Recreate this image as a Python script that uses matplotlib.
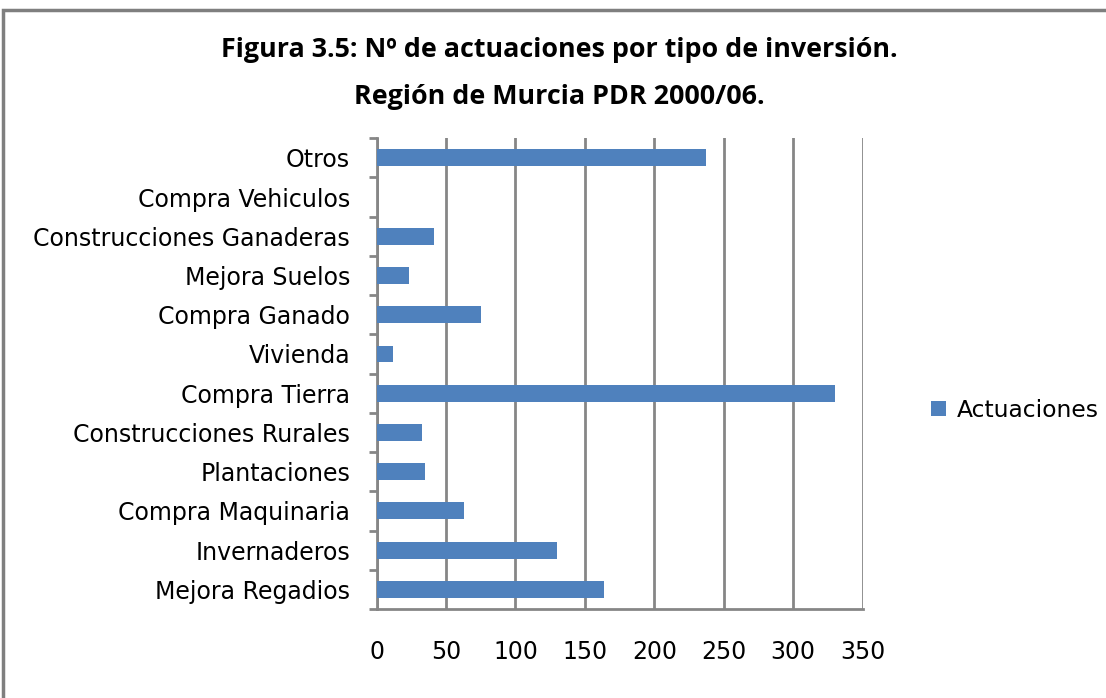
import matplotlib
matplotlib.use("Agg")
import matplotlib.pyplot as plt
from matplotlib.patches import Rectangle

categories = ["Mejora Regadios", "Invernaderos", "Compra Maquinaria", "Plantaciones",
              "Construcciones Rurales", "Compra Tierra", "Vivienda", "Compra Ganado",
              "Mejora Suelos", "Construcciones Ganaderas", "Compra Vehiculos", "Otros"]
values = [164, 130, 63, 35, 33, 330, 12, 75, 23, 41, 0, 237]
xticks = [0, 50, 100, 150, 200, 250, 300, 350]
series_name = "Actuaciones"
title_lines = ["Figura 3.5: Nº de actuaciones por tipo de inversión.",
               "Región de Murcia PDR 2000/06."]

plt.rcParams['font.family'] = ['DejaVu Sans']
bar_color = "#4F81BD"
grid_color = "#868686"

fig = plt.figure(figsize=(11.06, 6.98), dpi=100)
ax = fig.add_axes([0.3405, 0.1275, 0.4395, 0.6745])

y = list(range(len(categories)))
bars = ax.barh(y, values, height=0.43, color=bar_color, label=series_name, zorder=3)

ax.set_xlim(0, 350)
ax.set_ylim(-0.5, len(categories) - 0.5)
ax.set_xticks(xticks)
ax.set_xticklabels([str(t) for t in xticks], fontsize=17)
ax.set_yticks(y)
ax.set_yticklabels(categories, fontsize=17)
ax.tick_params(axis='y', length=0, pad=19)
ax.tick_params(axis='x', length=0, pad=22)
ax.set_yticks([i - 0.5 for i in range(len(categories) + 1)], minor=True)
ax.tick_params(axis='y', which='minor', length=6, width=2, color=grid_color, direction='out')
ax.set_xticks(xticks, minor=True)
ax.tick_params(axis='x', which='minor', length=6, width=2, color=grid_color, direction='out')

ax.grid(axis='x', color=grid_color, linewidth=2, zorder=0)
for s in ['top', 'right']:
    ax.spines[s].set_visible(False)
for s in ['left', 'bottom']:
    ax.spines[s].set_color(grid_color)
    ax.spines[s].set_linewidth(2)

fig.text(0.506, 1 - 50 / 698, title_lines[0], ha='center', va='center', fontsize=19.4,
         fontweight='bold', family=['Open Sans', 'DejaVu Sans'])
fig.text(0.506, 1 - 97 / 698, title_lines[1], ha='center', va='center', fontsize=19.4,
         fontweight='bold', family=['Open Sans', 'DejaVu Sans'])

leg = fig.legend(handles=[bars], labels=[series_name], loc='center left',
                 bbox_to_anchor=(0.842, 1 - 410 / 698), frameon=False, fontsize=16.8,
                 handlelength=0.65, handleheight=0.65, handletextpad=0.45,
                 borderpad=0, borderaxespad=0)

fig.patches.append(Rectangle((0.003, -0.05), 1.2, 1.036, transform=fig.transFigure,
                             fill=False, edgecolor='#7f7f7f', linewidth=2.5))

fig.savefig("out.png", dpi=100)
